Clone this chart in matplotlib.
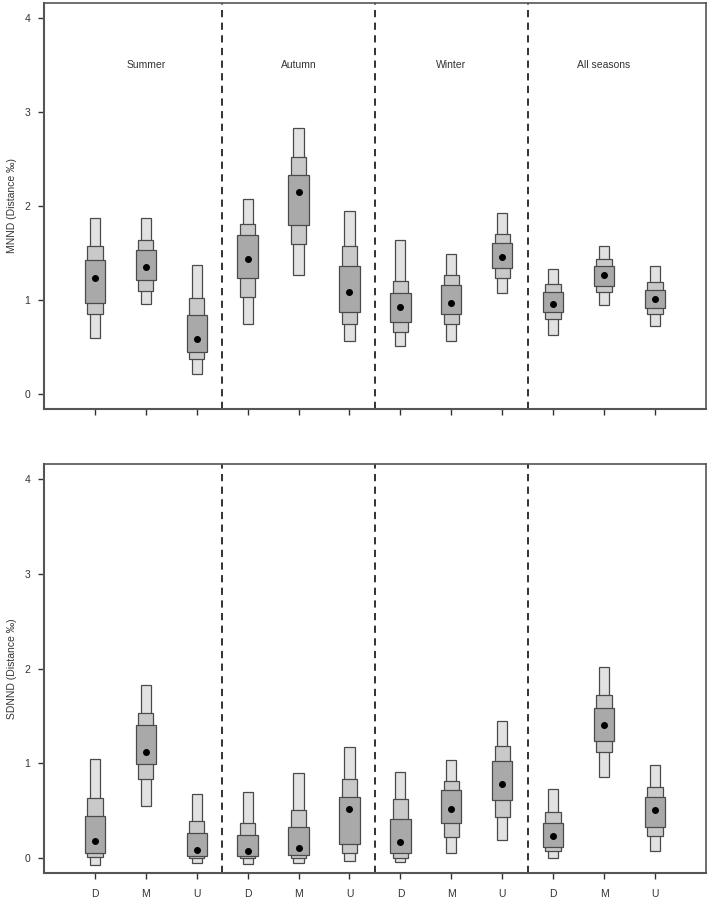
import numpy as np
import matplotlib.pyplot as plt

plt.rcParams['font.family'] = ['Liberation Sans', 'DejaVu Sans']

seasons = ['Summer', 'Autumn', 'Winter', 'All seasons']
groups = ['D', 'M', 'U'] * 4

# MNND: credible intervals (95, 75, 50 %) and modes
mnnd_lo95 = [0.60, 0.96, 0.21, 0.74, 1.27, 0.56, 0.51, 0.56, 1.07, 0.63, 0.95, 0.72]
mnnd_hi95 = [1.87, 1.87, 1.37, 2.07, 2.83, 1.95, 1.64, 1.49, 1.93, 1.33, 1.57, 1.36]
mnnd_lo75 = [0.85, 1.09, 0.37, 1.03, 1.60, 0.74, 0.66, 0.74, 1.23, 0.80, 1.08, 0.85]
mnnd_hi75 = [1.57, 1.64, 1.02, 1.81, 2.52, 1.57, 1.20, 1.27, 1.70, 1.17, 1.44, 1.19]
mnnd_lo50 = [0.97, 1.21, 0.45, 1.23, 1.80, 0.87, 0.77, 0.85, 1.34, 0.87, 1.15, 0.91]
mnnd_hi50 = [1.42, 1.53, 0.84, 1.69, 2.33, 1.36, 1.07, 1.16, 1.61, 1.08, 1.36, 1.11]
mnnd_mode = [1.23, 1.355, 0.58, 1.44, 2.15, 1.085, 0.925, 0.97, 1.455, 0.955, 1.265, 1.015]

# SDNND
sdnnd_lo95 = [-0.07, 0.55, -0.05, -0.06, -0.05, -0.03, -0.04, 0.05, 0.19, 0.00, 0.86, 0.08]
sdnnd_hi95 = [1.05, 1.83, 0.68, 0.70, 0.90, 1.17, 0.91, 1.04, 1.45, 0.73, 2.02, 0.98]
sdnnd_lo75 = [0.01, 0.84, 0.00, 0.00, 0.00, 0.05, 0.00, 0.22, 0.43, 0.07, 1.12, 0.23]
sdnnd_hi75 = [0.63, 1.53, 0.39, 0.37, 0.51, 0.84, 0.62, 0.81, 1.18, 0.49, 1.72, 0.75]
sdnnd_lo50 = [0.05, 0.99, 0.02, 0.02, 0.03, 0.15, 0.05, 0.37, 0.61, 0.12, 1.24, 0.33]
sdnnd_hi50 = [0.44, 1.40, 0.26, 0.24, 0.33, 0.64, 0.41, 0.72, 1.03, 0.37, 1.58, 0.64]
sdnnd_mode = [0.185, 1.12, 0.085, 0.08, 0.11, 0.515, 0.17, 0.515, 0.785, 0.23, 1.405, 0.505]

cols = ['#e2e2e2', '#c9c9c9', '#a9a9a9']
widths = [0.2, 0.3, 0.4]
edge = '#4a4a4a'

fig = plt.figure(figsize=(7.09, 9.0), dpi=100)
ax1 = fig.add_axes([0.062, 0.5456, 0.9336, 0.4511])
ax2 = fig.add_axes([0.062, 0.0297, 0.9336, 0.4547])

x = np.arange(1, 13)


def panel(ax, lows, highs, mode, ylabel):
    # widest interval first, 50% box on top
    for lo, hi, c, w in zip(lows, highs, cols, widths):
        lo = np.array(lo)
        hi = np.array(hi)
        ax.bar(x, hi - lo, bottom=lo, width=w, color=c, edgecolor=edge,
               linewidth=0.9, zorder=2)
    ax.plot(x, mode, 'o', color='black', markersize=4, zorder=3)
    for xv in [3.5, 6.5, 9.5]:
        ax.axvline(xv, color='#222222', linestyle=(0, (4, 3)), linewidth=1.3, zorder=1)
    ax.set_xlim(0, 13)
    ax.set_ylim(-0.16, 4.16)
    ax.set_yticks([0, 1, 2, 3, 4])
    ax.set_xticks(x)
    ax.set_ylabel(ylabel, fontsize=7.5, color='#333333', labelpad=5)
    ax.tick_params(labelsize=7.5, colors='#333333', length=4, width=1, pad=6)
    for s in ['top', 'right']:
        ax.spines[s].set_color('#555555')
        ax.spines[s].set_linewidth(1.2)
    for s in ['left', 'bottom']:
        ax.spines[s].set_color('#555555')
        ax.spines[s].set_linewidth(1.5)


panel(ax1, [mnnd_lo95, mnnd_lo75, mnnd_lo50], [mnnd_hi95, mnnd_hi75, mnnd_hi50],
      mnnd_mode, 'MNND (Distance ‰)')
panel(ax2, [sdnnd_lo95, sdnnd_lo75, sdnnd_lo50], [sdnnd_hi95, sdnnd_hi75, sdnnd_hi50],
      sdnnd_mode, 'SDNND (Distance ‰)')

ax1.set_xticklabels([])
ax2.set_xticklabels(groups)
ax2.tick_params(axis='x', pad=7)

for i, s in enumerate(seasons):
    ax1.text(2 + 3 * i, 3.5, s, ha='center', va='center', fontsize=7.5, color='#333333')

fig.savefig('out.png', dpi=100)
